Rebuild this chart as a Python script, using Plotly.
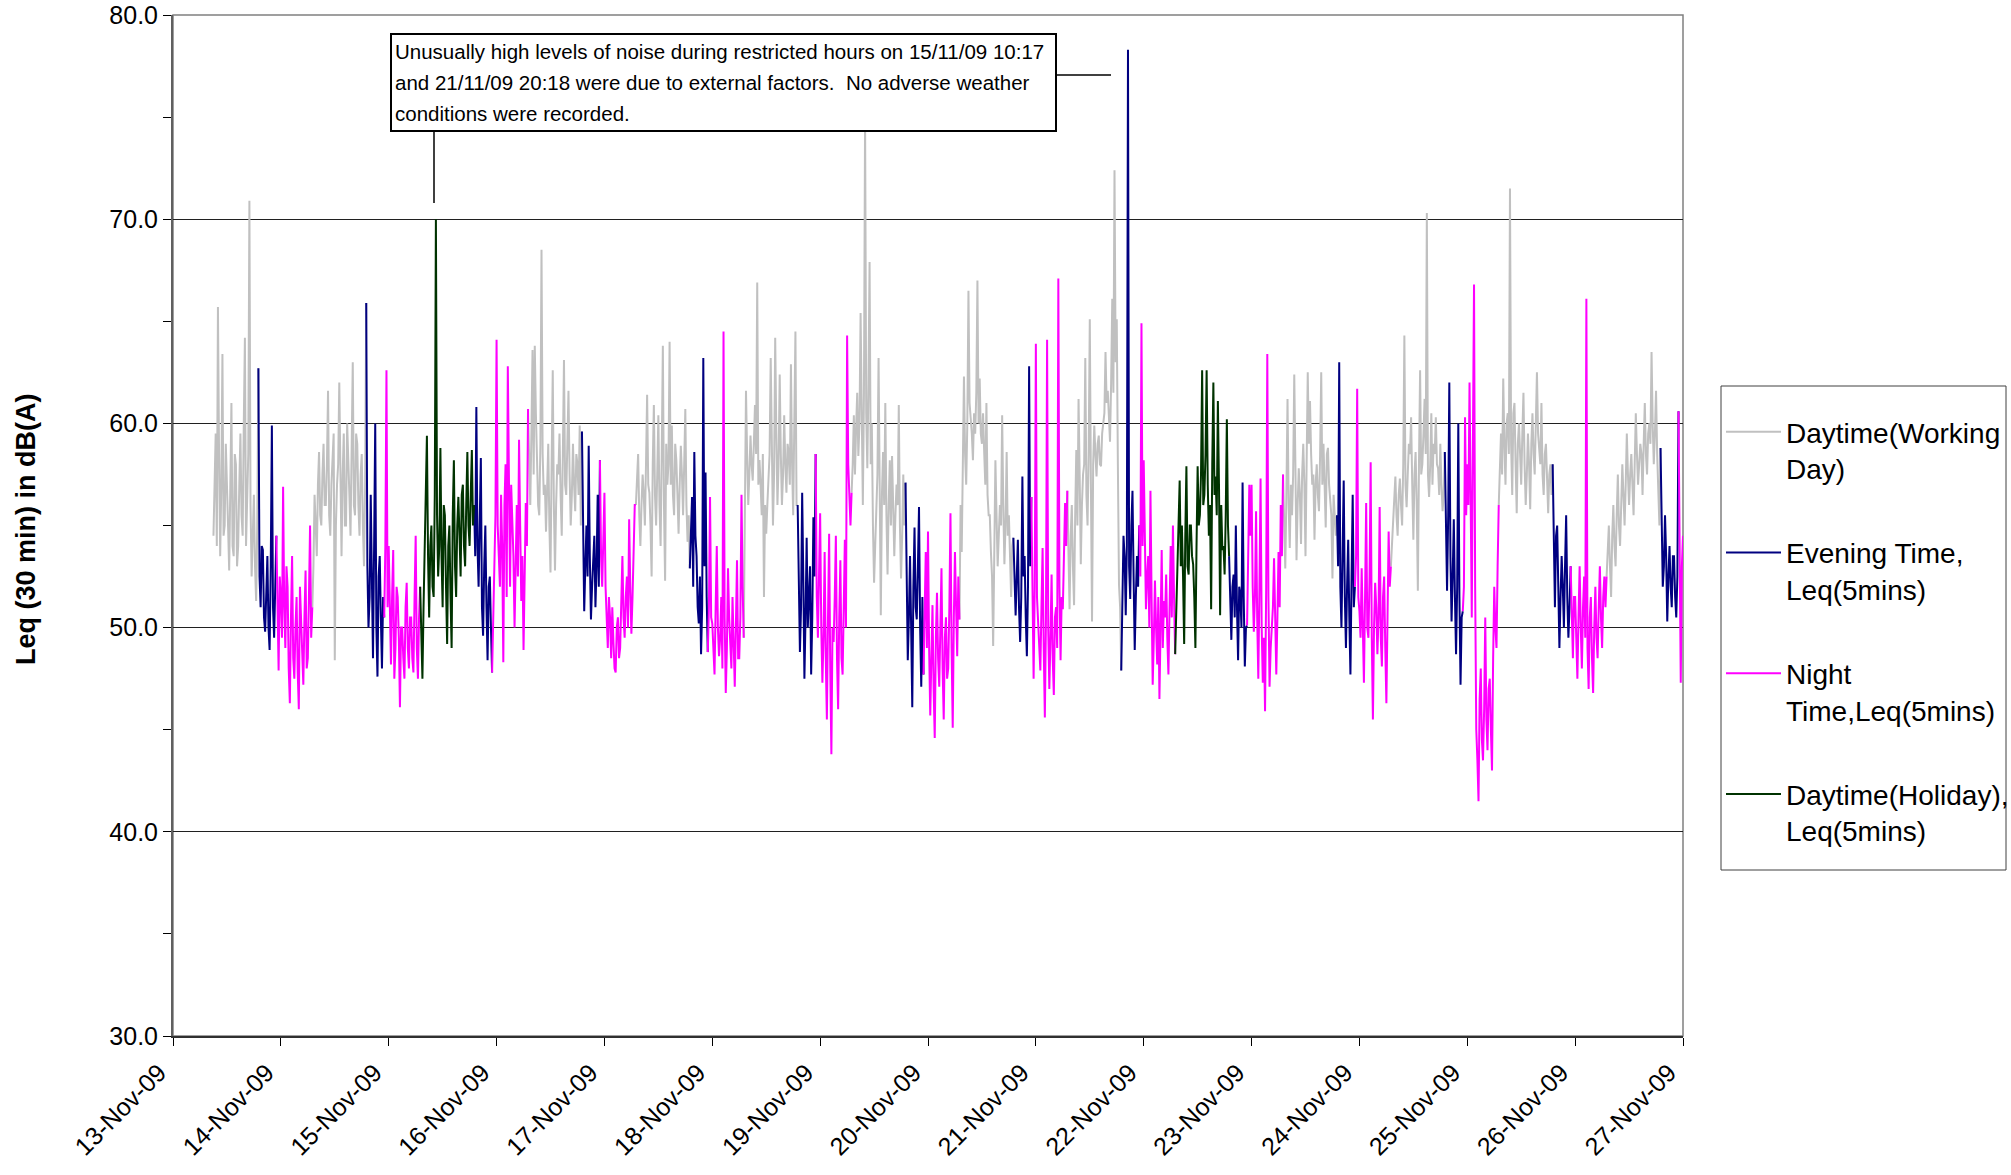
import pandas as pd
import plotly.graph_objects as go

# Leq readings in dB(A), one pair of lists per day.
# novXX   : readings on the half hour, 00:00 .. 23:30
# novXX_q : the readings in between, 00:15 .. 23:45
# None = logger not yet running.
# each list: night 00-07h (14) | day 07-19h (24) | evening 19-23h (8) | night 23-24h (2)
nov13 = [None] * 18 + [
    54.5, 59.5, 65.7, 53.5, 63.4, 55.0, 57.5, 52.8, 61.0, 53.5,
    58.0, 54.0, 59.5, 54.5, 64.2, 56.0, 70.9, 52.5, 56.5, 51.3,
    62.7, 51.0, 53.8, 49.8, 53.5, 48.9, 59.9, 49.5,
    54.5, 47.9]
nov13_q = [None] * 18 + [
    56.5, 54.0, 58.5, 57.0, 54.5, 59.0, 55.0, 57.5, 54.0, 58.5,
    53.0, 57.0, 55.5, 60.0, 54.0, 58.5, 56.0, 54.5, 53.0, 55.0,
    52.5, 54.0, 50.5, 52.5, 50.0, 53.0, 51.0, 52.0,
    50.0, 52.5]
nov14 = [51.5, 56.9, 49.0, 52.0, 46.3, 53.5, 47.5, 51.5, 46.0, 50.5, 47.2, 52.8, 48.5, 55.0,
         51.0, 56.5, 53.5, 58.6, 55.0, 59.0, 56.0, 61.6, 54.5, 58.5, 48.4, 57.0,
         62.0, 53.5, 59.5, 55.0, 58.5, 54.5, 63.0, 55.5, 59.0, 54.5, 58.5, 53.0,
         65.9, 50.0, 56.5, 48.5, 60.0, 47.6, 53.5, 48.0,
         50.5, 62.6]
nov14_q = [49.5, 51.0, 53.0, 48.0, 50.5, 48.5, 50.0, 47.8, 52.0, 49.0, 50.5, 48.0, 51.5, 49.5,
           53.0, 55.0, 57.0, 55.5, 57.5, 56.0, 58.0, 55.5, 57.0, 59.5, 55.0, 58.0,
           56.0, 57.5, 55.0, 60.0, 56.5, 58.0, 56.0, 59.5, 56.0, 57.5, 55.0, 57.0,
           53.0, 51.5, 52.0, 54.0, 50.0, 52.5, 50.5, 51.5,
           54.0, 51.0]
nov15 = [54.0, 48.2, 53.8, 49.0, 51.5, 46.1, 50.0, 47.5, 52.2, 48.0, 50.5, 47.8, 54.5, 47.5,
         52.0, 47.5, 53.5, 59.4, 50.5, 55.0, 51.5, 70.0, 52.5, 58.8, 51.0, 55.5,
         49.2, 55.0, 49.0, 58.2, 51.5, 56.4, 52.5, 57.0, 53.0, 58.6, 54.0, 58.7,
         56.0, 60.8, 52.0, 58.3, 49.6, 55.0, 48.4, 52.5,
         47.8, 53.5]
nov15_q = [50.5, 51.5, 47.5, 52.0, 49.5, 50.0, 48.5, 51.0, 49.0, 50.5, 48.5, 51.5, 49.0, 50.5,
           49.5, 51.0, 56.0, 53.5, 54.0, 52.0, 56.5, 55.5, 54.0, 53.5, 56.0, 52.0,
           54.0, 51.5, 55.5, 53.0, 55.0, 54.5, 56.5, 54.0, 56.0, 55.0, 56.5, 55.0,
           53.5, 54.0, 55.5, 51.0, 53.0, 51.0, 52.0, 50.0,
           51.0, 55.5]
nov16 = [64.1, 53.5, 56.5, 48.3, 58.0, 62.8, 52.0, 55.1, 50.0, 56.0, 59.2, 51.3, 48.9, 56.1,
         60.7, 56.0, 63.6, 63.8, 58.0, 55.5, 68.5, 56.5, 54.7, 59.0, 52.7, 62.6,
         52.8, 58.0, 59.5, 54.5, 63.1, 56.5, 61.6, 55.0, 59.0, 55.7, 58.0, 59.9,
         59.6, 50.8, 55.0, 58.9, 50.4, 53.0, 51.0, 56.5,
         58.2, 52.0]
nov16_q = [55.0, 52.0, 54.0, 56.0, 51.5, 55.5, 57.0, 53.5, 54.5, 52.5, 55.0, 53.5, 52.5, 54.0,
           58.0, 59.5, 57.5, 60.5, 56.0, 59.0, 58.5, 57.0, 57.5, 55.0, 58.0, 56.0,
           56.0, 57.5, 56.5, 58.5, 57.0, 59.0, 57.5, 56.5, 57.0, 58.5, 56.5, 55.0,
           54.0, 53.0, 52.5, 53.5, 52.0, 54.5, 53.0, 52.0,
           53.5, 55.0]
nov17 = [56.6, 50.0, 51.5, 48.5, 49.3, 47.8, 50.5, 49.0, 53.5, 49.5, 52.5, 55.3, 49.7, 54.0,
         56.0, 58.5, 54.0, 57.5, 55.0, 61.4, 56.6, 52.5, 60.9, 55.0, 60.4, 54.0,
         63.8, 52.3, 57.0, 64.0, 59.9, 55.5, 58.2, 54.6, 58.9, 55.5, 60.7, 54.2,
         52.9, 56.4, 58.6, 53.5, 50.2, 48.7, 63.2, 57.6,
         48.8, 56.4]
nov17_q = [52.0, 49.0, 50.5, 51.0, 48.0, 50.0, 48.5, 51.5, 50.5, 51.5, 50.0, 52.0, 51.5, 56.0,
           57.0, 55.5, 56.0, 56.5, 58.0, 57.0, 55.0, 58.0, 56.5, 57.5, 56.0, 58.5,
           56.0, 59.0, 58.0, 57.0, 56.5, 59.0, 56.5, 57.0, 57.5, 58.0, 56.0, 55.5,
           54.5, 52.0, 54.5, 51.0, 52.5, 51.0, 53.0, 51.5,
           51.0, 50.5]
nov18 = [50.2, 47.7, 54.0, 48.6, 51.5, 64.5, 46.8, 52.9, 49.5, 51.5, 47.1, 53.3, 48.5, 56.5,
         49.5, 61.6, 56.0, 59.4, 57.2, 60.9, 66.9, 58.2, 55.5, 51.5, 54.6, 57.5,
         63.2, 55.0, 64.2, 56.0, 62.4, 56.0, 60.4, 56.6, 58.6, 62.9, 55.5, 64.5,
         56.0, 48.8, 56.6, 47.5, 54.4, 51.5, 47.7, 55.4,
         58.5, 49.5]
nov18_q = [49.0, 51.0, 50.0, 49.5, 48.0, 50.5, 49.0, 50.5, 48.0, 49.0, 50.0, 48.5, 50.5, 52.0,
           54.5, 58.5, 57.5, 58.0, 59.0, 58.5, 57.0, 57.0, 58.5, 56.0, 56.0, 58.5,
           59.0, 57.5, 59.5, 58.0, 58.5, 57.5, 58.0, 59.0, 57.0, 58.0, 60.0, 56.0,
           52.0, 51.0, 52.5, 50.5, 50.0, 53.0, 50.5, 52.5,
           51.5, 53.0]
nov19 = [55.6, 47.3, 53.7, 45.5, 54.6, 43.8, 49.3, 54.5, 46.0, 53.3, 47.7, 54.3, 64.3, 56.7,
         56.6, 60.4, 59.8, 58.4, 65.4, 56.0, 75.0, 57.8, 67.9, 60.0, 52.2, 55.7,
         63.2, 50.6, 58.6, 61.0, 52.6, 58.2, 58.4, 53.5, 57.0, 60.9, 52.4, 57.5,
         57.1, 48.4, 53.5, 46.1, 54.9, 50.4, 55.9, 47.1,
         47.7, 53.7]
nov19_q = [50.0, 49.5, 48.5, 50.5, 48.0, 50.0, 51.5, 48.5, 50.5, 48.5, 51.0, 50.0, 58.0, 55.0,
           58.0, 57.5, 61.5, 60.0, 59.0, 61.5, 60.5, 62.0, 58.0, 55.0, 54.0, 57.5,
           55.0, 56.5, 56.0, 55.5, 56.0, 55.0, 56.0, 55.5, 56.0, 55.0, 54.5, 55.0,
           52.0, 50.5, 50.0, 52.0, 51.0, 53.0, 50.0, 51.5,
           50.5, 49.0]
nov20 = [54.7, 45.7, 51.1, 44.6, 51.7, 47.1, 52.9, 45.5, 50.5, 48.0, 55.6, 45.1, 53.7, 48.6,
         50.4, 53.7, 62.3, 57.0, 66.5, 60.4, 58.2, 59.5, 67.0, 62.2, 59.0, 58.6,
         61.0, 55.5, 53.7, 49.1, 58.2, 53.0, 56.0, 60.4, 53.1, 58.6, 55.5, 51.5,
         54.4, 50.6, 54.3, 49.3, 57.4, 53.5, 48.6, 62.8,
         56.4, 47.5]
nov20_q = [49.0, 48.5, 47.0, 49.5, 48.5, 50.0, 48.0, 49.5, 47.5, 51.0, 49.0, 50.5, 51.0, 52.5,
           56.0, 57.5, 58.5, 60.0, 61.0, 59.5, 60.5, 61.5, 60.0, 59.5, 60.5, 57.0,
           56.5, 55.5, 52.5, 54.0, 55.5, 54.5, 55.0, 56.0, 55.0, 54.5, 53.5, 54.0,
           52.0, 52.5, 51.0, 51.5, 52.5, 50.5, 52.0, 53.0,
           50.5, 52.0]
nov21 = [63.9, 50.1, 47.9, 53.9, 45.6, 64.1, 47.0, 52.6, 46.7, 51.0, 67.1, 48.4, 50.9, 56.1,
         56.7, 50.9, 56.0, 51.1, 58.7, 61.2, 53.1, 57.5, 63.2, 55.0, 65.1, 50.3,
         59.9, 57.4, 59.4, 57.9, 59.9, 63.5, 61.6, 59.1, 66.1, 72.4, 65.1, 52.1,
         47.9, 54.5, 50.6, 78.3, 51.4, 56.7, 48.9, 53.5,
         55.0, 64.9]
nov21_q = [51.5, 49.5, 51.0, 49.0, 50.5, 50.0, 49.5, 48.5, 50.5, 49.0, 52.0, 51.5, 53.5, 54.0,
           53.5, 54.5, 53.0, 55.5, 55.0, 57.5, 56.0, 58.0, 56.5, 58.5, 57.0, 58.0,
           58.5, 59.0, 58.0, 59.5, 60.5, 61.0, 60.5, 62.0, 61.5, 63.0, 58.0, 51.0,
           52.0, 53.5, 54.0, 53.0, 55.0, 52.5, 51.5, 52.0,
           52.5, 54.0]
nov22 = [58.2, 50.9, 53.5, 56.7, 47.2, 52.3, 48.2, 46.5, 53.8, 51.3, 52.6, 47.7, 54.0, 55.0,
         48.7, 53.8, 57.2, 55.0, 49.2, 57.9, 52.6, 55.0, 53.1, 49.0, 57.9, 55.5,
         62.6, 56.5, 62.6, 54.5, 50.9, 62.0, 57.4, 61.1, 50.6, 53.8, 52.6, 60.2,
         53.5, 49.4, 52.6, 55.0, 48.4, 51.6, 57.1, 48.1,
         50.1, 57.0]
nov22_q = [54.0, 52.5, 50.0, 51.5, 49.5, 50.0, 51.5, 50.0, 49.0, 50.5, 49.5, 51.0, 50.5, 51.5,
           51.0, 55.5, 53.0, 52.5, 54.5, 53.0, 55.0, 53.5, 51.5, 54.0, 55.0, 57.5,
           56.0, 58.5, 57.0, 56.0, 58.0, 56.5, 55.5, 57.0, 56.0, 54.0, 55.5, 55.0,
           51.5, 52.0, 50.5, 51.0, 52.0, 50.0, 51.5, 50.0,
           53.0, 54.5]
nov23 = [57.0, 49.8, 55.7, 47.5, 57.3, 47.3, 45.9, 63.4, 47.1, 50.2, 53.4, 47.7, 53.7, 56.0,
         57.5, 52.9, 61.2, 53.9, 55.5, 62.4, 53.3, 57.8, 54.1, 59.0, 53.5, 62.5,
         61.1, 57.0, 54.3, 58.0, 55.7, 62.5, 59.0, 54.9, 58.8, 56.0, 52.4, 55.5,
         55.5, 63.0, 50.0, 57.2, 49.0, 54.3, 47.7, 56.5,
         52.0, 61.7]
nov23_q = [52.0, 51.5, 50.5, 52.0, 50.0, 49.5, 52.0, 51.5, 49.0, 51.0, 49.5, 50.5, 51.0, 53.5,
           55.0, 56.5, 56.0, 57.0, 57.5, 58.0, 56.0, 56.5, 57.5, 57.0, 58.0, 59.0,
           58.5, 57.5, 57.0, 56.5, 58.5, 57.0, 57.0, 58.5, 57.0, 55.5, 56.5, 54.5,
           53.0, 52.0, 53.5, 51.5, 52.0, 50.5, 52.5, 51.0,
           53.5, 51.5]
nov24 = [50.8, 52.9, 47.3, 56.1, 49.5, 58.1, 45.5, 52.2, 48.7, 55.9, 48.1, 52.5, 46.3, 54.7,
         53.0, 55.3, 57.4, 54.5, 57.3, 55.0, 64.3, 55.9, 59.0, 60.3, 54.3, 58.6,
         51.8, 62.6, 58.0, 61.2, 70.3, 56.4, 60.5, 59.0, 60.3, 57.8, 59.0, 55.7,
         58.6, 51.8, 62.0, 50.3, 55.3, 48.7, 60.0, 47.2,
         50.8, 60.3]
nov24_q = [49.5, 50.0, 51.5, 50.0, 52.5, 49.5, 50.0, 51.0, 50.5, 49.5, 51.5, 49.0, 50.5, 52.0,
           54.0, 56.0, 55.5, 56.5, 56.0, 58.0, 57.0, 57.5, 58.5, 57.0, 57.5, 56.0,
           58.0, 57.5, 59.5, 58.5, 57.5, 58.0, 57.0, 58.5, 58.0, 56.5, 57.0, 56.5,
           54.5, 55.5, 53.5, 52.5, 51.5, 52.0, 51.5, 50.5,
           52.0, 55.5]
nov25 = [58.0, 62.0, 50.5, 66.8, 45.0, 41.5, 48.0, 43.5, 50.5, 44.0, 47.5, 43.0, 52.0, 49.0,
         56.0, 59.5, 62.2, 57.0, 60.5, 71.5, 56.5, 61.0, 55.6, 60.0, 57.0, 61.5,
         56.0, 59.5, 55.8, 60.5, 57.5, 62.5, 58.5, 61.0, 56.5, 59.0, 55.6, 58.0,
         58.0, 51.0, 55.0, 49.0, 53.5, 50.0, 55.5, 49.5,
         53.0, 48.5]
nov25_q = [56.0, 55.0, 59.0, 52.0, 43.5, 46.5, 44.5, 46.0, 45.5, 47.0, 45.0, 48.5, 50.0, 53.0,
           58.0, 57.5, 59.0, 60.0, 58.5, 59.0, 60.5, 58.0, 59.0, 58.5, 59.5, 58.0,
           57.5, 58.0, 59.0, 58.5, 60.0, 59.5, 58.0, 57.5, 58.5, 57.0, 57.5, 56.5,
           53.5, 54.5, 52.0, 51.5, 52.0, 53.0, 51.5, 51.0,
           50.5, 51.5]
nov26 = [51.5, 47.5, 53.0, 48.0, 52.5, 66.1, 47.0, 51.5, 46.8, 52.0, 48.5, 53.0, 49.0, 52.5,
         52.5, 55.0, 51.5, 56.0, 53.0, 57.5, 54.0, 58.0, 55.0, 59.5, 56.0, 58.5,
         55.5, 60.5, 57.0, 59.0, 56.5, 61.0, 57.5, 60.0, 63.5, 58.0, 61.6, 56.0,
         58.8, 52.0, 55.5, 50.3, 54.0, 51.0, 53.5, 50.5,
         60.6, 47.3]
nov26_q = [49.5, 50.5, 50.0, 51.0, 49.5, 49.0, 50.5, 48.5, 50.0, 49.5, 51.0, 50.5, 51.5, 51.0,
           54.0, 53.0, 54.5, 54.0, 55.5, 55.0, 56.0, 56.5, 57.0, 57.5, 57.5, 57.0,
           58.0, 58.5, 58.0, 58.5, 59.0, 58.5, 59.5, 59.0, 60.0, 59.5, 58.5, 55.0,
           54.5, 53.0, 53.5, 52.5, 52.0, 53.5, 51.5, 52.5,
           51.0, 53.0]
nov27_midnight = 54.5

holidays = ['2009-11-15', '2009-11-22']

days = [(nov13, nov13_q), (nov14, nov14_q), (nov15, nov15_q), (nov16, nov16_q),
        (nov17, nov17_q), (nov18, nov18_q), (nov19, nov19_q), (nov20, nov20_q),
        (nov21, nov21_q), (nov22, nov22_q), (nov23, nov23_q), (nov24, nov24_q),
        (nov25, nov25_q), (nov26, nov26_q)]
values = []
for half, quarter in days:
    for a, b in zip(half, quarter):
        values += [a, b]
values.append(nov27_midnight)
times = list(pd.date_range('2009-11-13', periods=len(values), freq='15min'))


def period(t):
    if 7 <= t.hour < 19:
        return 'holiday' if t.strftime('%Y-%m-%d') in holidays else 'day'
    if 19 <= t.hour < 23:
        return 'evening'
    return 'night'


cats = [period(t) for t in times]

series = [
    ('day', 'Daytime(Working<br>Day)', '#C0C0C0'),
    ('evening', 'Evening Time,<br>Leq(5mins)', '#000080'),
    ('night', 'Night<br>Time,Leq(5mins)', '#FF00FF'),
    ('holiday', 'Daytime(Holiday),<br>Leq(5mins)', '#003300'),
]

note_lines = [
    'Unusually high levels of noise during restricted hours on 15/11/09 10:17',
    'and 21/11/09 20:18 were due to external factors.&nbsp; No adverse weather',
    'conditions were recorded.',
]

# pixel frame of the plot area
W, H = 2011, 1175
L, R, T, B = 173, 1683, 15, 1036


def px(x):
    return (x - L) / (R - L)


def py(y):
    return (B - y) / (B - T)


fig = go.Figure()
for key, name, color in series:
    xs, ys = [], []
    for i, c in enumerate(cats):
        if c != key or values[i] is None:
            continue
        xs.append(times[i])
        ys.append(values[i])
        # join up to the next reading so segments don't look broken
        if i + 1 < len(cats) and cats[i + 1] != key:
            xs += [times[i + 1], None]
            ys += [values[i + 1], None]
    fig.add_trace(go.Scatter(x=xs, y=ys, mode='lines', name=name, legendgroup=key,
                             line=dict(color=color, width=2)))

sans = 'Liberation Sans, Arial, sans-serif'

fig.update_layout(
    width=W, height=H,
    margin=dict(l=L, r=W - R, t=T, b=H - B, autoexpand=False),
    paper_bgcolor='white', plot_bgcolor='white',
    font=dict(family=sans, color='black'),
    showlegend=True,
    legend=dict(x=px(1721), y=py(407), xanchor='left', yanchor='top',
                font=dict(size=28, family=sans), bgcolor='rgba(0,0,0,0)',
                borderwidth=0, tracegroupgap=45, traceorder='grouped',
                valign='top', itemwidth=55),
    xaxis=dict(type='date', range=['2009-11-13', '2009-11-27'],
               dtick=86400000, tick0='2009-11-13', tickformat='%d-%b-%y',
               tickangle=-45, tickfont=dict(size=25, family=sans),
               ticklabelshift=-14, ticklabelstandoff=2,
               ticks='outside', ticklen=8, tickcolor='black', automargin=False,
               showgrid=False, showline=True, linecolor='#303030', linewidth=2,
               zeroline=False),
    yaxis=dict(range=[30, 80], dtick=10, tickformat='.1f',
               tickfont=dict(size=25, family=sans), automargin=False,
               ticks='outside', ticklen=8, tickcolor='black',
               minor=dict(dtick=5, ticks='outside', ticklen=8, tickcolor='black', showgrid=False),
               showgrid=True, gridcolor='#202020', gridwidth=1,
               showline=True, linecolor='#606060', linewidth=2, zeroline=False),
)

# plot-area border and legend frame
fig.add_shape(type='rect', xref='paper', yref='paper', x0=0, x1=1, y0=0, y1=1,
              line=dict(color='#808080', width=1.5), layer='below')
fig.add_shape(type='rect', xref='paper', yref='paper', x0=px(1721), x1=px(2006),
              y0=py(870), y1=py(386), line=dict(color='#404040', width=1))

# axis title
fig.add_annotation(xref='paper', yref='paper', x=px(26), y=py(529), showarrow=False,
                   xanchor='center', yanchor='middle',
                   text='<b>Leq (30 min) in dB(A)</b>', textangle=-90,
                   font=dict(size=27, family=sans))

# call-out note: frame, three text lines, two pointer lines
fig.add_shape(type='rect', xref='paper', yref='paper', x0=px(391), x1=px(1056),
              y0=py(131), y1=py(34), line=dict(color='black', width=2), fillcolor='white')
for k, line in enumerate(note_lines):
    fig.add_annotation(xref='paper', yref='paper', x=px(393), y=py(51 + 31.5 * k),
                       xanchor='left', yanchor='middle', showarrow=False, text=line,
                       font=dict(size=20.5, family=sans))
fig.add_shape(type='line', xref='paper', yref='paper', x0=px(434), x1=px(434),
              y0=py(131), y1=py(203), line=dict(color='black', width=1.5))
fig.add_shape(type='line', xref='paper', yref='paper', x0=px(1056), x1=px(1111),
              y0=py(75), y1=py(75), line=dict(color='black', width=1.5))

fig.write_html('out.html', config={'displayModeBar': False},
               post_script="document.body.style.margin='0';")
